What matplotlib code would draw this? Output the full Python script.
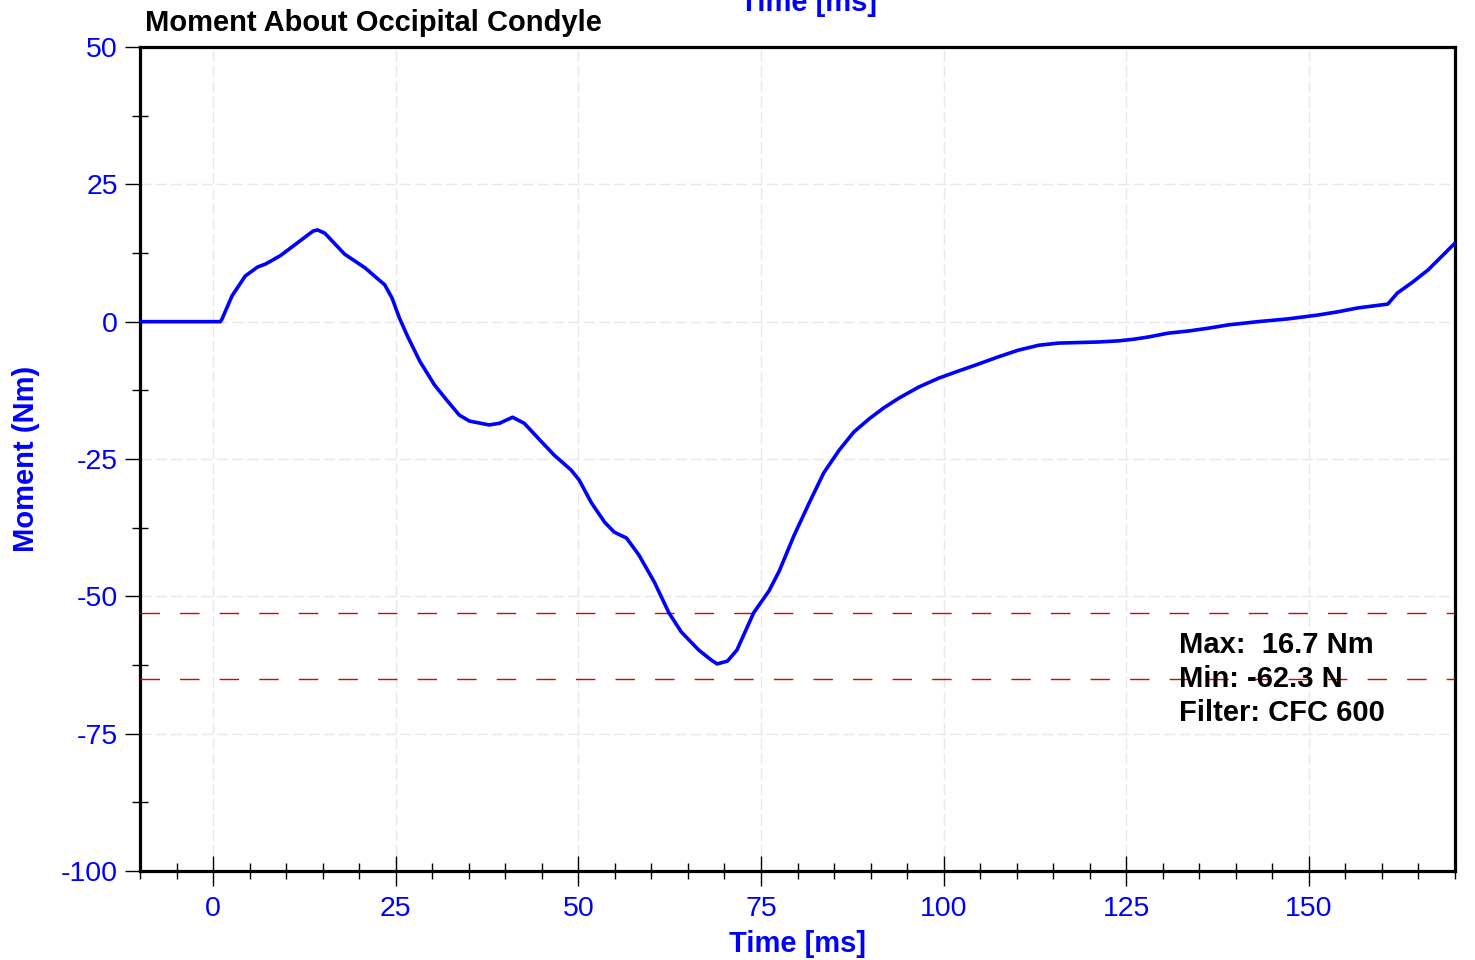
import matplotlib
matplotlib.use("Agg")
import matplotlib.pyplot as plt
from matplotlib.ticker import MultipleLocator

plt.rcParams['font.family'] = ['Liberation Sans', 'DejaVu Sans']
plt.rcParams['axes.unicode_minus'] = False

time_ms = [-10, -5, 0, 1.0, 1.2, 2.6, 4.4, 6.1, 7.2, 9.2, 11.5, 13.7, 14.3, 15.3, 18.0, 20.8,
           23.5, 24.5, 25.5, 26.6, 28.3, 30.3, 32.0, 33.7, 35.1, 37.8, 39.2, 41.0, 42.6,
           44.7, 46.7, 49.0, 50.1, 51.8, 53.6, 54.9, 56.6, 58.3, 60.4, 62.4, 64.1, 66.5,
           68.2, 69.0, 70.4, 71.7, 74.0, 76.1, 77.5, 79.5, 81.6, 83.6, 85.7, 87.7, 89.8,
           91.8, 93.9, 96.6, 99.3, 102.0, 104.8, 107.5, 110.2, 113.0, 115.7, 118.4, 121.2,
           123.9, 126.0, 128.0, 130.7, 133.5, 136.2, 138.9, 143.0, 147.1, 151.2, 154.0,
           156.7, 160.8, 162.1, 164.2, 166.3, 170.0]
moment_nm = [0.0, 0.0, 0.0, 0.0, 0.4, 4.7, 8.3, 9.95, 10.5, 12.0, 14.3, 16.5, 16.7, 16.1, 12.3, 9.8,
             6.7, 4.3, 0.7, -2.6, -7.2, -11.5, -14.3, -17.0, -18.1, -18.8, -18.5, -17.4, -18.5,
             -21.5, -24.3, -27.0, -28.8, -33.0, -36.5, -38.3, -39.4, -42.5, -47.4, -53.0, -56.5, -59.8,
             -61.6, -62.3, -61.8, -59.8, -53.0, -49.0, -45.4, -39.0, -33.0, -27.5, -23.4, -20.1, -17.7,
             -15.7, -13.9, -11.9, -10.3, -9.0, -7.7, -6.4, -5.2, -4.3, -3.9, -3.8, -3.7,
             -3.5, -3.2, -2.8, -2.1, -1.7, -1.2, -0.6, 0.0, 0.5, 1.2, 1.8,
             2.5, 3.2, 5.2, 7.2, 9.4, 14.3]

ref_lines = [-53.0, -65.1]
stats_text = ["Max:  16.7 Nm", "Min: -62.3 N", "Filter: CFC 600"]

W, H = 1475, 960
fig = plt.figure(figsize=(W / 100, H / 100), dpi=100)
ax = fig.add_axes([140 / W, 1 - 871 / H, (1455 - 140) / W, (871 - 47) / H])

ax.plot(time_ms, moment_nm, color='#0000ff', lw=2.6, zorder=5,
        solid_joinstyle='round', solid_capstyle='round')
for yv in ref_lines:
    ax.axhline(yv, color='#e00000', lw=1.0, linestyle=(0, (14, 14.5)), zorder=3)

ax.set_xlim(-10, 170)
ax.set_ylim(-100, 50)
ax.xaxis.set_major_locator(MultipleLocator(25))
ax.xaxis.set_minor_locator(MultipleLocator(5))
ax.yaxis.set_major_locator(MultipleLocator(25))
ax.yaxis.set_minor_locator(MultipleLocator(12.5))

ax.grid(True, which='major', color='#e8e8e8', lw=1.0, linestyle=(0, (8, 3)), zorder=0)

for sp in ax.spines.values():
    sp.set_linewidth(2.3)
    sp.set_color('black')

ax.tick_params(axis='x', which='major', direction='inout', length=22, width=1.0,
               colors='black', labelcolor='#0000ff', labelsize=20.5, pad=7)
ax.tick_params(axis='x', which='minor', direction='inout', length=11.5, width=1.0, colors='black')
ax.tick_params(axis='y', which='major', direction='out', length=11, width=1.0,
               colors='black', labelcolor='#0000ff', labelsize=20.5, pad=5)
ax.tick_params(axis='y', which='minor', direction='inout', length=11, width=1.0, colors='black')

ax.set_xlabel('Time [ms]', color='#0000ff', fontsize=21, fontweight='bold', labelpad=6)
ax.set_ylabel('Moment (Nm)', color='#0000ff', fontsize=21, fontweight='bold', labelpad=15)

fig.text(145 / W, 1 - 31 / H, 'Moment About Occipital Condyle', fontsize=21,
         fontweight='bold', color='black', ha='left', va='baseline')
fig.text(808 / W, 1 - 11 / H, 'Time [ms]', fontsize=21, fontweight='bold',
         color='#0000ff', ha='center', va='baseline')

for i, s in enumerate(stats_text):
    ax.text(1179 / W, 1 - (645 + 34 * i) / H, s, transform=fig.transFigure,
            fontsize=21, fontweight='bold', color='black', ha='left', va='center', zorder=6)

fig.savefig('out.png', dpi=100)
